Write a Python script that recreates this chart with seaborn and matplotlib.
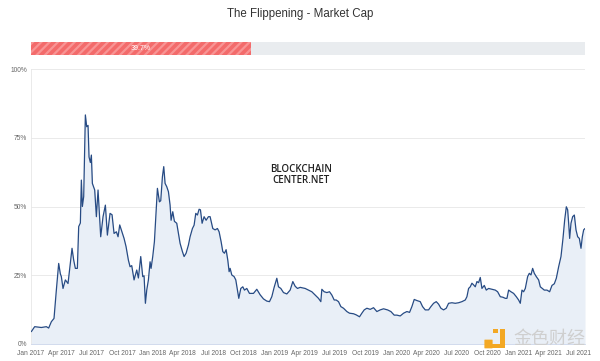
import matplotlib
matplotlib.use("Agg")
import matplotlib.pyplot as plt
import matplotlib.dates as mdates
from matplotlib.patches import FancyBboxPatch, Rectangle
import seaborn as sns
import pandas as pd

# ---------------- data ----------------
title = "The Flippening - Market Cap"
progress_value = 39.7
y_ticks = [0, 25, 50, 75, 100]

dates = [
    "2017-01-02", "2017-01-12", "2017-02-01", "2017-02-16", "2017-02-23", "2017-03-03", "2017-03-11",
    "2017-03-18", "2017-03-25", "2017-03-30", "2017-04-02", "2017-04-07", "2017-04-14", "2017-04-22",
    "2017-04-29", "2017-05-04", "2017-05-09", "2017-05-14", "2017-05-20", "2017-05-24", "2017-05-29",
    "2017-06-01", "2017-06-04", "2017-06-08", "2017-06-13", "2017-06-17", "2017-06-21", "2017-06-24",
    "2017-06-28", "2017-07-01", "2017-07-04", "2017-07-11", "2017-07-16", "2017-07-21", "2017-07-26",
    "2017-07-29", "2017-08-05", "2017-08-12", "2017-08-18", "2017-08-26", "2017-09-01", "2017-09-07",
    "2017-09-14", "2017-09-19", "2017-09-24",
    "2017-10-07", "2017-10-13", "2017-10-20", "2017-10-25", "2017-10-30", "2017-11-06", "2017-11-14",
    "2017-11-19", "2017-11-26", "2017-12-02", "2017-12-06", "2017-12-10", "2017-12-14", "2017-12-19",
    "2017-12-24", "2017-12-27", "2018-01-01", "2018-01-06", "2018-01-11", "2018-01-15", "2018-01-21",
    "2018-01-25", "2018-01-30", "2018-02-03", "2018-02-07", "2018-02-12", "2018-02-17", "2018-02-22",
    "2018-02-25", "2018-03-02", "2018-03-07", "2018-03-14", "2018-03-19", "2018-03-24", "2018-03-31",
    "2018-04-05", "2018-04-11", "2018-04-18", "2018-04-23", "2018-04-30", "2018-05-05", "2018-05-10",
    "2018-05-15", "2018-05-20", "2018-05-24", "2018-05-29", "2018-06-04", "2018-06-10", "2018-06-17",
    "2018-06-22", "2018-06-30", "2018-07-07", "2018-07-14", "2018-07-19", "2018-07-25", "2018-07-30",
    "2018-08-04", "2018-08-09", "2018-08-14", "2018-08-18", "2018-08-21", "2018-08-26", "2018-09-02",
    "2018-09-07", "2018-09-12", "2018-09-16", "2018-09-22", "2018-09-28", "2018-10-03", "2018-10-10",
    "2018-10-18", "2018-10-30", "2018-11-09", "2018-11-19", "2018-11-29", "2018-12-09", "2018-12-17",
    "2018-12-24", "2018-12-31", "2019-01-08", "2019-01-13", "2019-01-20", "2019-01-28", "2019-02-07",
    "2019-02-17", "2019-02-25", "2019-03-04", "2019-03-11", "2019-03-19",
    "2019-04-03", "2019-04-13", "2019-04-23", "2019-05-03", "2019-05-13", "2019-05-20", "2019-05-23",
    "2019-05-30", "2019-06-07", "2019-06-15", "2019-06-22", "2019-06-29", "2019-07-05", "2019-07-12",
    "2019-07-19", "2019-07-27", "2019-08-06", "2019-08-14", "2019-08-26", "2019-09-03", "2019-09-13",
    "2019-09-20", "2019-09-27", "2019-10-05", "2019-10-15", "2019-10-25", "2019-11-04", "2019-11-14",
    "2019-11-24", "2019-12-06", "2019-12-16", "2019-12-26",
    "2020-01-03", "2020-01-13", "2020-01-23", "2020-02-02", "2020-02-10", "2020-02-17", "2020-02-24",
    "2020-03-03", "2020-03-13", "2020-03-20", "2020-03-28", "2020-04-07", "2020-04-14", "2020-04-22",
    "2020-04-30", "2020-05-07", "2020-05-14", "2020-05-22", "2020-05-30", "2020-06-06", "2020-06-16",
    "2020-06-26", "2020-07-06", "2020-07-16", "2020-07-26", "2020-07-31", "2020-08-05", "2020-08-10",
    "2020-08-15", "2020-08-20", "2020-08-25", "2020-08-30", "2020-09-04", "2020-09-09",
    "2020-09-14", "2020-09-21", "2020-09-27", "2020-10-04", "2020-10-14", "2020-10-24", "2020-10-31",
    "2020-11-08", "2020-11-16", "2020-11-23", "2020-11-28", "2020-12-03", "2020-12-10", "2020-12-18",
    "2020-12-26", "2021-01-02", "2021-01-07", "2021-01-12", "2021-01-17", "2021-01-22", "2021-01-29",
    "2021-02-03", "2021-02-08", "2021-02-13", "2021-02-18", "2021-02-24", "2021-03-03", "2021-03-08",
    "2021-03-14", "2021-03-20", "2021-03-28", "2021-04-05", "2021-04-12", "2021-04-19", "2021-04-25",
    "2021-05-02", "2021-05-09", "2021-05-15", "2021-05-20", "2021-05-25", "2021-05-29", "2021-06-01",
    "2021-06-04", "2021-06-08", "2021-06-13", "2021-06-18", "2021-06-23", "2021-06-28", "2021-07-03",
    "2021-07-08", "2021-07-12", "2021-07-16", "2021-07-20",
]

ratio = [
    4.5, 6.3, 6.0, 6.3, 5.8, 8.1, 9.3,
    19.6, 29.3, 25.5, 24.5, 20.2, 23.3, 22.0,
    29.3, 34.8, 30.5, 27.5, 27.5, 42.7, 44.0,
    59.6, 50.0, 53.6, 83.3, 79.0, 79.5, 68.0,
    66.0, 68.7, 58.4, 56.0, 46.3, 56.0, 45.6,
    39.0, 46.3, 50.5, 39.6, 47.5, 47.0, 40.2,
    40.8, 39.0, 43.3,
    38.4, 35.4, 30.5, 28.1, 28.5, 23.3, 26.9,
    24.0, 31.8, 24.5, 24.8, 14.8, 19.6, 23.3,
    29.9, 27.5, 31.8, 37.2, 48.1, 56.6, 51.7,
    52.1, 60.8, 64.5, 58.4, 57.2, 55.4, 50.5,
    45.0, 48.1, 44.6, 43.9, 40.2, 36.6, 33.6,
    31.8, 33.0, 36.0, 39.0, 42.0, 43.2, 47.5,
    46.9, 49.0, 48.8, 43.9, 46.3, 45.0, 46.3,
    46.3, 42.0, 41.5, 42.0, 40.8, 37.2, 33.6,
    33.0, 34.3, 30.5, 26.3, 27.5, 25.1, 24.5,
    23.3, 19.6, 16.6, 20.2, 20.8, 19.6, 20.2,
    18.4, 18.4, 19.9, 17.9, 16.4, 15.6, 15.4,
    17.2, 20.6, 23.9, 20.8, 20.2, 18.7, 18.2,
    19.6, 22.7, 21.0, 20.2, 20.6,
    20.2, 19.6, 19.0, 17.8, 16.6, 15.4, 19.9,
    19.0, 18.7, 19.0, 17.8, 16.0, 16.0, 15.4,
    13.6, 13.0, 11.8, 11.2, 11.0, 10.6, 9.9,
    11.2, 12.4, 13.0, 12.6, 13.2, 11.8, 12.4,
    12.8, 12.4, 11.8, 10.5,
    10.5, 10.2, 11.2, 11.8, 11.5, 13.6, 16.2,
    15.8, 15.4, 13.6, 12.4, 12.4, 13.6, 14.8,
    15.4, 14.5, 13.0, 12.4, 13.0, 14.8, 15.0,
    14.8, 15.0, 15.4, 16.0, 17.2, 20.2, 20.8,
    22.1, 21.5, 20.8, 22.7, 22.3, 24.2,
    20.2, 21.3, 19.6, 20.2, 19.9, 19.6, 19.0,
    17.2, 17.0, 16.6, 16.6, 19.6, 19.0, 18.4,
    17.2, 16.0, 14.8, 19.6, 19.0, 20.2, 24.5,
    25.7, 25.1, 27.5, 25.7, 24.5, 23.3, 20.8,
    20.2, 19.6, 19.6, 19.0, 21.3, 21.9, 23.9,
    28.1, 31.8, 38.4, 45.0, 49.9, 48.8, 43.9,
    38.4, 43.9, 46.3, 46.9, 41.5, 39.0, 38.4,
    34.8, 39.0, 41.5, 42.0,
]

# ---------------- style ----------------
sns.set_theme(style="white")
plt.rcParams["font.family"] = ["Liberation Sans", "DejaVu Sans"]
plt.rcParams["hatch.linewidth"] = 1.6

fig = plt.figure(figsize=(6, 3.61), dpi=100)

# ---------------- main chart ----------------
ax = fig.add_axes([31 / 600, 1 - 344 / 361, 554 / 600, 275 / 361])
df = pd.DataFrame({"date": pd.to_datetime(dates), "ratio": ratio})
ax.fill_between(df["date"], df["ratio"], 0, color="#e9eff7", lw=0, zorder=1)
sns.lineplot(data=df, x="date", y="ratio", ax=ax, color="#274b84", lw=0.9, zorder=3)

ax.set_xlim(pd.Timestamp("2017-01-01"), pd.Timestamp("2021-07-20"))
ax.set_ylim(0, 100)
ax.set_yticks(y_ticks)
ax.set_yticklabels([f"{v}%" for v in y_ticks])
ax.xaxis.set_major_locator(mdates.MonthLocator(bymonth=[1, 4, 7, 10]))
ax.xaxis.set_major_formatter(mdates.DateFormatter("%b %Y"))
ax.grid(axis="y", color="#e6e6e6", lw=0.6, zorder=0)
ax.grid(axis="x", visible=False)
ax.set_xlabel("")
ax.set_ylabel("")
for s in ["top", "right"]:
    ax.spines[s].set_visible(False)
ax.spines["left"].set_color("#e6e6e6")
ax.spines["left"].set_linewidth(0.6)
ax.spines["bottom"].set_color("#ccd6eb")
ax.spines["bottom"].set_linewidth(0.6)
ax.tick_params(axis="x", labelsize=4.8, labelcolor="#666666", length=0, pad=4)
ax.tick_params(axis="y", labelsize=4.8, labelcolor="#666666", length=0, pad=3)

# watermark in chart
fig.text(301 / 600, 1 - 170 / 361, "BLOCKCHAIN", ha="center", va="center",
         fontsize=7, color="#222222", family=["Open Sans", "DejaVu Sans"], fontweight="semibold")
fig.text(301 / 600, 1 - 180.5 / 361, "CENTER.NET", ha="center", va="center",
         fontsize=7, color="#222222", family=["Open Sans", "DejaVu Sans"], fontweight="semibold")

# ---------------- progress bar ----------------
bx = fig.add_axes([31 / 600, 1 - 55 / 361, 554 / 600, 13 / 361])
bx.barh([0], [100], height=1, color="#e9ecef", lw=0)
bx.barh([0], [progress_value], height=1, color="#f36b6b", hatch="////",
        edgecolor="#f89494", lw=0)
bx.text(progress_value / 2, 0, f"{progress_value}%", ha="center", va="center",
        fontsize=5, color="white")
bx.set_xlim(0, 100)
bx.set_ylim(-0.5, 0.5)
bx.axis("off")

# ---------------- title ----------------
fig.text(0.5, 1 - 14 / 361, title, ha="center", va="center", fontsize=8.3, color="#333333")

# ---------------- corner watermark ----------------
fig.patches.append(FancyBboxPatch((485 / 600, 1 - 348 / 361), 7 / 600, 8 / 361,
                                  boxstyle="round,pad=0.001", transform=fig.transFigure,
                                  facecolor="#f3a824", edgecolor="none", figure=fig, zorder=5))
fig.patches.append(Rectangle((485 / 600, 1 - 348 / 361), 20 / 600, 4 / 361,
                             transform=fig.transFigure, facecolor="#f3a824",
                             edgecolor="none", figure=fig, zorder=5))
fig.patches.append(Rectangle((500 / 600, 1 - 348 / 361), 5 / 600, 19 / 361,
                             transform=fig.transFigure, facecolor="#f3a824",
                             edgecolor="none", figure=fig, zorder=5))
fig.patches.append(Rectangle((493 / 600, 1 - 333 / 361), 5 / 600, 4 / 361,
                             transform=fig.transFigure, facecolor="#f3a824",
                             edgecolor="none", figure=fig, zorder=5))
fig.text(549 / 600, 1 - 339 / 361, "金色财经", ha="center", va="center", fontsize=13,
         color="#cfcfcf", family=["Noto Sans CJK SC", "DejaVu Sans"], zorder=6)

fig.savefig("out.png", dpi=100)
